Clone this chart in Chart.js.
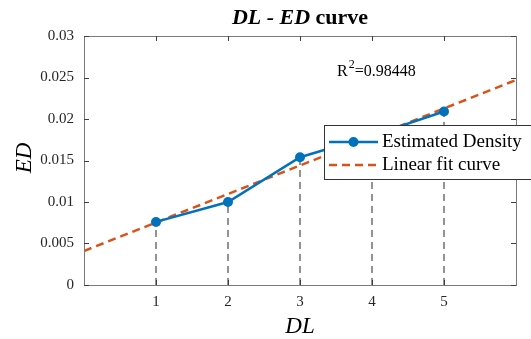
<!DOCTYPE html>
<html>
<head>
<meta charset="utf-8">
<script src="https://cdn.jsdelivr.net/npm/chart.js@4"></script>
<style>
html,body{margin:0;padding:0;background:#fff;}
#wrap{width:531px;height:339px;}
</style>
</head>
<body>
<div id="wrap"><canvas id="c" width="531" height="339"></canvas></div>
<script>
const dl = [1, 2, 3, 4, 5];
const ed = [0.0076, 0.0100, 0.0154, 0.0180, 0.0209];
const fitX = [0, 6];
const fitY = [0.0041, 0.0247];
const xTicks = [1, 2, 3, 4, 5];
const yTicks = [0, 0.005, 0.01, 0.015, 0.02, 0.025, 0.03];
const yTickLabels = ['0', '0.005', '0.01', '0.015', '0.02', '0.025', '0.03'];
const r2Text = '0.98448';
const legendLabels = ['Estimated Density', 'Linear fit curve'];

const BLUE = '#0072BD', ORANGE = '#D95319';
const SERIF = '"Liberation Serif", "DejaVu Serif", serif';

const dropSets = dl.map((x, i) => ({
  type: 'line',
  data: [{x: x, y: 0}, {x: x, y: ed[i]}],
  borderColor: '#707070',
  borderWidth: 1.5,
  borderDash: [7, 5],
  pointRadius: 0,
  fill: false,
  order: 3
}));

const overlay = {
  id: 'overlay',
  afterDraw(chart) {
    const ctx = chart.ctx;
    const xs = chart.scales.x, ys = chart.scales.y;
    const a = chart.chartArea;
    ctx.save();
    // box
    ctx.strokeStyle = '#7a7a7a';
    ctx.lineWidth = 1;
    ctx.strokeRect(Math.round(a.left) + 0.5, Math.round(a.top) + 0.5, Math.round(a.right - a.left), Math.round(a.bottom - a.top));
    // ticks
    ctx.strokeStyle = '#404040';
    ctx.beginPath();
    xTicks.forEach(v => {
      const px = Math.round(xs.getPixelForValue(v)) + 0.5;
      ctx.moveTo(px, a.bottom); ctx.lineTo(px, a.bottom - 5);
      ctx.moveTo(px, a.top); ctx.lineTo(px, a.top + 5);
    });
    yTicks.forEach(v => {
      const py = Math.round(ys.getPixelForValue(v)) + 0.5;
      ctx.moveTo(a.left, py); ctx.lineTo(a.left + 5, py);
      ctx.moveTo(a.right, py); ctx.lineTo(a.right - 5, py);
    });
    ctx.stroke();
    // tick labels
    ctx.fillStyle = '#262626';
    ctx.font = '15px ' + SERIF;
    ctx.textAlign = 'right'; ctx.textBaseline = 'middle';
    yTicks.forEach((v, i) => {
      ctx.fillText(yTickLabels[i], a.left - 10, ys.getPixelForValue(v));
    });
    ctx.textAlign = 'center'; ctx.textBaseline = 'middle';
    xTicks.forEach(v => {
      ctx.fillText(String(v), xs.getPixelForValue(v), a.bottom + 17);
    });
    // axis titles
    ctx.fillStyle = '#000';
    ctx.font = 'italic 23px ' + SERIF;
    ctx.textAlign = 'center'; ctx.textBaseline = 'middle';
    ctx.fillText('DL', 300, 327);
    ctx.save();
    ctx.translate(25, 158);
    ctx.rotate(-Math.PI / 2);
    ctx.fillText('ED', 0, 0);
    ctx.restore();
    // title
    const parts = [['italic bold 22px ', 'DL - ED'], ['bold 22px ', ' curve']];
    let total = 0;
    parts.forEach(p => { ctx.font = p[0] + SERIF; total += ctx.measureText(p[1]).width; });
    let tx = 300 - total / 2;
    ctx.textAlign = 'left'; ctx.textBaseline = 'middle';
    parts.forEach(p => { ctx.font = p[0] + SERIF; ctx.fillText(p[1], tx, 18); tx += ctx.measureText(p[1]).width; });
    // R^2
    ctx.font = '16px ' + SERIF;
    ctx.textBaseline = 'alphabetic';
    ctx.fillText('R', 337, 76);
    let rw = ctx.measureText('R').width;
    ctx.font = '12px ' + SERIF;
    ctx.fillText('2', 337 + rw + 1, 68);
    let w2 = ctx.measureText('2').width;
    ctx.font = '16px ' + SERIF;
    ctx.fillText('=' + r2Text, 337 + rw + 1 + w2, 76);
    // legend
    const lx = 324.5, ly = 125.5, lw = 230, lh = 54;
    ctx.fillStyle = '#fff';
    ctx.fillRect(lx, ly, lw, lh);
    ctx.strokeStyle = '#333';
    ctx.lineWidth = 1;
    ctx.strokeRect(lx, ly, lw, lh);
    ctx.lineWidth = 2.5;
    ctx.strokeStyle = BLUE;
    ctx.beginPath(); ctx.moveTo(329, 142); ctx.lineTo(378, 142); ctx.stroke();
    ctx.fillStyle = BLUE;
    ctx.beginPath(); ctx.arc(353.5, 142, 5, 0, Math.PI * 2); ctx.fill();
    ctx.strokeStyle = ORANGE;
    ctx.setLineDash([8, 5]);
    ctx.beginPath(); ctx.moveTo(329, 165); ctx.lineTo(378, 165); ctx.stroke();
    ctx.setLineDash([]);
    ctx.fillStyle = '#000';
    ctx.font = '19px ' + SERIF;
    ctx.textBaseline = 'middle';
    ctx.fillText(legendLabels[0], 382, 142);
    ctx.fillText(legendLabels[1], 382, 165);
    ctx.restore();
  }
};

new Chart(document.getElementById('c'), {
  type: 'line',
  data: {
    datasets: [
      {
        label: legendLabels[0],
        data: dl.map((x, i) => ({x: x, y: ed[i]})),
        borderColor: BLUE,
        backgroundColor: BLUE,
        borderWidth: 2.5,
        pointRadius: 5,
        pointBackgroundColor: BLUE,
        pointBorderWidth: 0,
        fill: false,
        tension: 0,
        order: 1
      },
      {
        label: legendLabels[1],
        data: fitX.map((x, i) => ({x: x, y: fitY[i]})),
        borderColor: ORANGE,
        borderWidth: 2.5,
        borderDash: [8, 5],
        pointRadius: 0,
        fill: false,
        order: 2
      },
      ...dropSets
    ]
  },
  options: {
    responsive: false,
    animation: false,
    events: [],
    layout: {padding: {left: 84, right: 15, top: 36, bottom: 54}},
    plugins: {legend: {display: false}, tooltip: {enabled: false}, title: {display: false}},
    scales: {
      x: {type: 'linear', min: 0, max: 6, display: false},
      y: {type: 'linear', min: 0, max: 0.03, display: false}
    }
  },
  plugins: [overlay]
});
</script>
</body>
</html>
